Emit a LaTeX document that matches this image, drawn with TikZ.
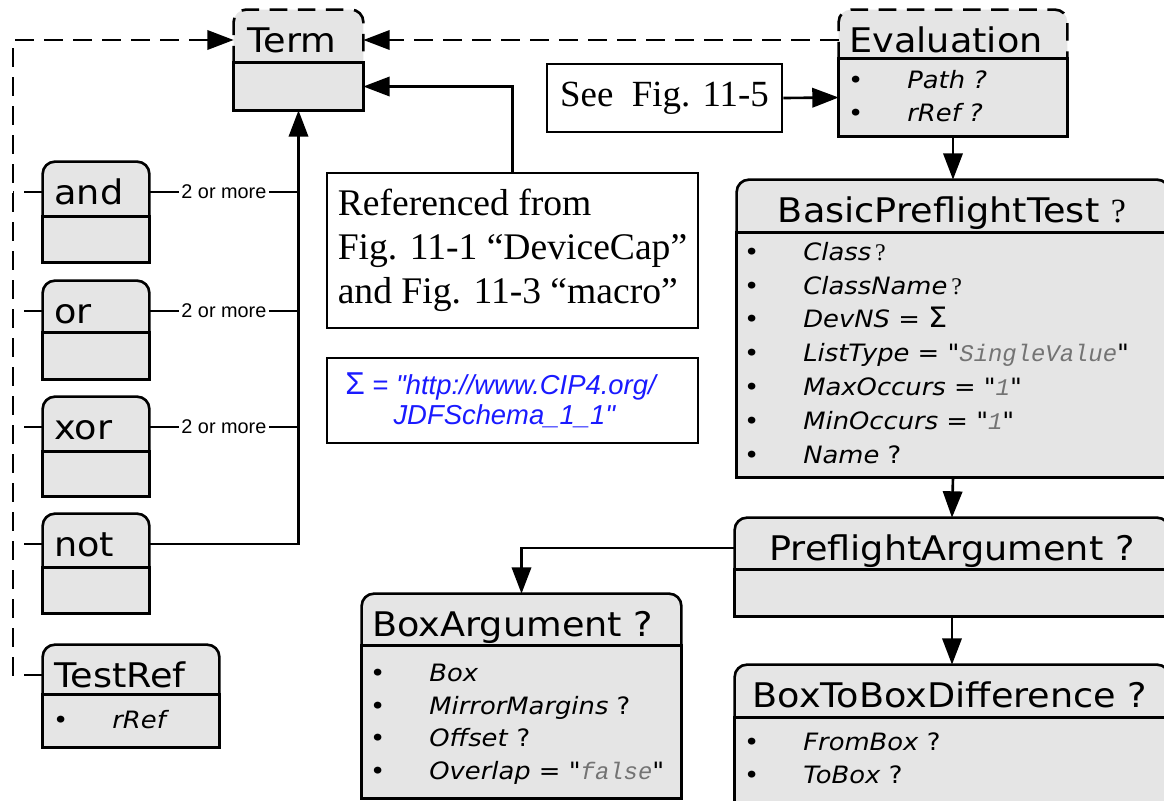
\documentclass[tikz,border=0pt]{standalone}
\usepackage{fontspec}
\setmainfont{Liberation Serif}
\newfontfamily\verd[FakeStretch=1.08, ItalicFont={DejaVu Sans Oblique}]{DejaVu Sans}
\newfontfamily\arial{Liberation Sans}
\newfontfamily\cour{Liberation Mono}
\usepackage{tikz}
\usetikzlibrary{arrows.meta, fit}
\definecolor{boxgray}{HTML}{E5E5E5}
\definecolor{sigblue}{HTML}{1A1AFF}
\newcommand{\val}[1]{{\cour\itshape\color{black!55}#1}}
% header slot + body slot of one class box
\newcommand{\umlbox}[7][]{%
  \node[slot, fit={(#3,#5) (#4,#6)}] (#2) {};
  \node[slot, fit={(#3,#6) (#4,#7)}] (#2-b) {};
  \filldraw[umlfill, rounded corners=7pt, #1] (#2.south west) |- (#2.north) -| (#2.south east);
  \filldraw[umlfill] (#2-b.north west) rectangle (#2-b.south east);
}

\begin{document}
\begin{tikzpicture}[
  x=0.02cm, y=-0.02cm,
  slot/.style={inner sep=0pt, draw=none},
  umlfill/.style={draw=black, fill=boxgray, line width=1.5pt},
  ttl/.style={inner sep=0pt, text height=14pt, text depth=0pt, font=\verd\fontsize{19.3pt}{23pt}\selectfont},
  item/.style={anchor=west, inner sep=0pt, text height=9.5pt, text depth=0pt,
    font=\verd\fontsize{13.6pt}{16pt}\selectfont, execute at begin node={\llap{\textbullet\hspace{25pt}}}},
  tbox/.style={draw, fill=white, line width=1.5pt, inner sep=0pt},
  lbl/.style={fill=white, inner sep=1.5pt, font=\arial\fontsize{11.3pt}{13pt}\selectfont},
  wire/.style={line width=1.5pt},
  dashwire/.style={line width=1.5pt, dash pattern=on 10.5pt off 6pt},
  arr/.style={-{Triangle[length=15pt, width=11pt]}}
]
\useasboundingbox (0,0) rectangle (1164,801);

% class boxes
\umlbox[dash pattern=on 10pt off 6pt]{term}{234}{363}{10}{63}{110}
\umlbox[dash pattern=on 10pt off 6pt]{eval}{839}{1067}{10}{59}{136}
\umlbox{and}{43}{149}{162}{217}{262}
\umlbox{or}{43}{149}{281}{333}{379}
\umlbox{xor}{43}{149}{397}{452}{496}
\umlbox{not}{43}{149}{514}{568}{613}
\umlbox{testref}{43}{219}{645}{695}{747}
\umlbox{bpt}{737}{1169}{180}{233}{477}
\umlbox{pa}{735}{1169}{518}{570}{616}
\umlbox{btb}{735}{1169}{665}{718}{830}
\umlbox{boxarg}{362}{681}{594}{646}{798}

\node[ttl, anchor=west] (term-t) at (247,40) {Term};
\node[ttl, anchor=west] (eval-t) at (849,40) {Evaluation};
\node[ttl, anchor=west] (and-t) at (54,192) {and};
\node[ttl, anchor=west] (or-t) at (54,311) {or};
\node[ttl, anchor=west] (xor-t) at (54,427) {xor};
\node[ttl, anchor=west] (not-t) at (54,544) {not};
\node[ttl, anchor=west] (testref-t) at (54,675) {TestRef};
\node[ttl] (bpt-t) at (952,210) {BasicPreflightTest {\rmfamily ?}};
\node[ttl] (pa-t) at (952,548) {PreflightArgument ?};
\node[ttl] (btb-t) at (950,695) {BoxToBoxDifference ?};
\node[ttl, anchor=west] (boxarg-t) at (372,624) {BoxArgument ?};

% attributes
\foreach \txt [count=\i] in {{\textit{Path ?}}, {\textit{rRef ?}}}
  \node[item] (eval-\i) at (907, {80+33*(\i-1)}) {\txt};
\node[item] (testref-1) at (112,720) {\textit{rRef}};
\foreach \txt [count=\i] in {%
    {\textit{Class}\,{\rmfamily ?}},
    {\textit{ClassName}\,{\rmfamily ?}},
    {\textit{DevNS} = {\fontsize{16pt}{16pt}\selectfont Σ}},
    {\textit{ListType} = "\val{SingleValue}"},
    {\textit{MaxOccurs = "\val{1}"}},
    {\textit{MinOccurs = "\val{1}"}},
    {\textit{Name} ?}}
  \node[item] (bpt-\i) at (803, {252+33.8*(\i-1)}) {\txt};
\foreach \txt [count=\i] in {{\textit{Box}}, {\textit{MirrorMargins} ?}, {\textit{Offset} ?},
    {\textit{Overlap} = "\val{false}"}}
  \node[item] (boxarg-\i) at (429, {673+32.7*(\i-1)}) {\txt};
\foreach \txt [count=\i] in {{\textit{FromBox} ?}, {\textit{ToBox} ?}}
  \node[item] (btb-\i) at (803, {742+33*(\i-1)}) {\txt};

% notes
\node[tbox, minimum width=4.7cm, minimum height=1.36cm, font=\fontsize{21pt}{25pt}\selectfont] (seefig) at (664.5,98) {See\ \ Fig. 11-5};
\node[tbox, minimum width=7.42cm, minimum height=3.1cm, align=left, font=\fontsize{21.4pt}{25pt}\selectfont] (refbox) at (512.5,250.5)
  {Referenced from\\Fig. 11-1 “DeviceCap”\\and Fig. 11-3 “macro”};
\node[tbox, minimum width=7.42cm, minimum height=1.7cm] (sigma) at (512.5,400.5) {};
\node[anchor=west, align=left, inner sep=0pt, text=sigblue, font=\arial\fontsize{15.6pt}{17pt}\selectfont] (sigma-t) at (345,400)
  {{\fontsize{18pt}{17pt}\selectfont Σ} = \textit{"http://www.CIP4.org/}\\\phantom{Σ = }\textit{JDFSchema\_1\_1"}};

% connectors
\draw[wire] (and-t.west -| and.east) -- node[lbl] {2 or more} (and-t.west -| term-b.south);
\draw[wire] (or-t.west -| or.east) -- node[lbl] {2 or more} (or-t.west -| term-b.south);
\draw[wire] (xor-t.west -| xor.east) -- node[lbl] {2 or more} (xor-t.west -| term-b.south);
\draw[wire, arr] (not-t.west -| not.east) -| (term-b.south);

\coordinate (dv) at (13,40);
\draw[dashwire, arr] (testref-t.west -| testref.west) -| (dv) -- (term-t.west -| term.west);
\foreach \n in {and, or, xor, not}
  \draw[dashwire] (\n-t.west -| \n.west) -- (\n-t.west -| dv);
\draw[dashwire, arr] (eval-t.west -| eval.west) -- (term-t.east -| term.east);

\draw[wire, arr] (seefig.east) -- (eval-b.west);
\draw[wire, arr] (refbox.north) |- (term-b.east);
\draw[wire, arr] (eval-b.south) -- (bpt.north);
\draw[wire, arr] (bpt-b.south) -- (pa.north);
\draw[wire, arr] (pa-b.south) -- (btb.north);
\draw[wire, arr] (pa-t.west -| pa.west) -| (boxarg.north);
\end{tikzpicture}
\end{document}
